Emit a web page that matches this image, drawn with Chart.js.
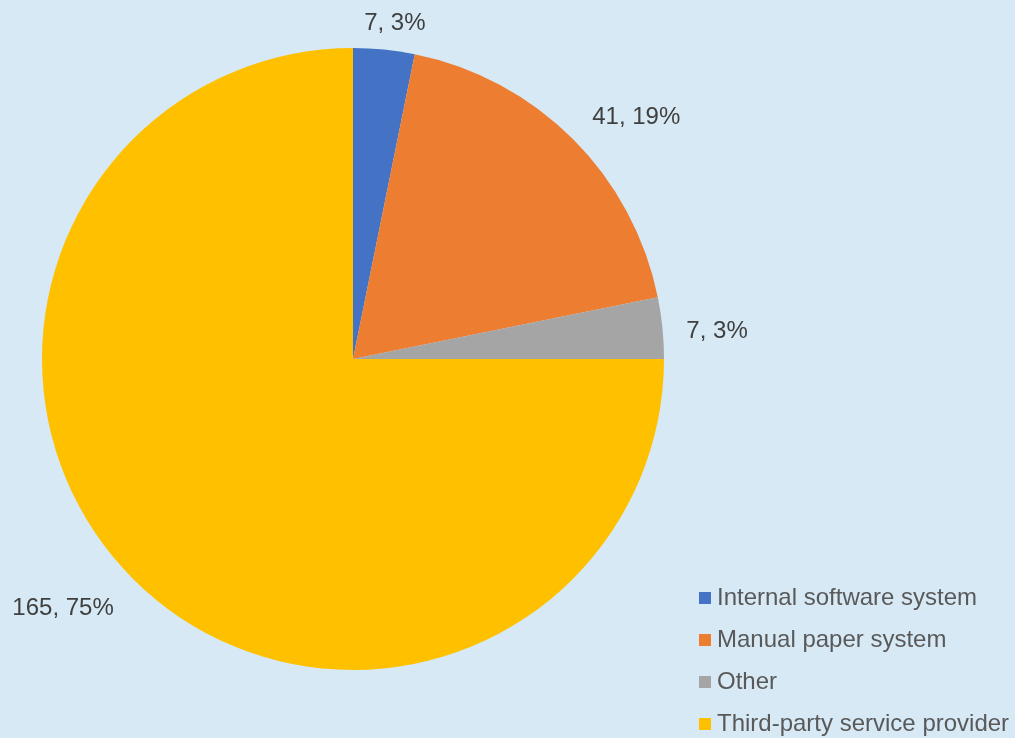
<!DOCTYPE html>
<html>
<head>
<meta charset="utf-8">
<script src="https://cdn.jsdelivr.net/npm/chart.js@4/dist/chart.umd.min.js"></script>
<style>
  html, body { margin: 0; padding: 0; background: #D6E9F4; }
  #wrap { position: relative; width: 1015px; height: 738px; }
  #legende { position: absolute; left: 699px; top: 576px; font-family: "Liberation Sans", Arial, sans-serif; font-size: 24px; color: #595959; }
  #legende div { height: 42px; line-height: 42px; white-space: nowrap; }
  #legende span { display: inline-block; width: 12px; height: 12px; margin-right: 6px; vertical-align: 1px; }
</style>
</head>
<body>
<div id="wrap">
  <canvas id="camembert" width="1015" height="738"></canvas>
  <div id="legende"></div>
</div>
<script>
const categories = ['Internal software system', 'Manual paper system', 'Other', 'Third-party service provider'];
const valeurs = [7, 41, 7, 165];
const pourcentages = ['3%', '19%', '3%', '75%'];
const couleurs = ['#4472C4', '#ED7D31', '#A5A5A5', '#FFC000'];

// legende en HTML
const legende = document.getElementById('legende');
categories.forEach((nom, i) => {
  const ligne = document.createElement('div');
  const carre = document.createElement('span');
  carre.style.background = couleurs[i];
  ligne.appendChild(carre);
  ligne.appendChild(document.createTextNode(nom));
  legende.appendChild(ligne);
});

// etiquettes "valeur, pourcentage" a l'exterieur des parts
const etiquettes = {
  id: 'etiquettes',
  afterDatasetsDraw(chart) {
    const ctx = chart.ctx;
    const meta = chart.getDatasetMeta(0);
    ctx.save();
    ctx.font = '24px "Liberation Sans", Arial, sans-serif';
    ctx.fillStyle = '#404040';
    meta.data.forEach((arc, i) => {
      const p = arc.getProps(['x', 'y', 'startAngle', 'endAngle', 'outerRadius'], true);
      const milieu = (p.startAngle + p.endAngle) / 2;
      const ux = Math.cos(milieu), uy = Math.sin(milieu);
      const ax = p.x + ux * (p.outerRadius + 16);
      const ay = p.y + uy * (p.outerRadius + 16);
      const texte = valeurs[i] + ', ' + pourcentages[i];
      const w = ctx.measureText(texte).width;
      let x = ax, y = ay;
      if (ux > 0.3) { ctx.textAlign = 'left'; x = ax + 8; }
      else if (ux < -0.3) { ctx.textAlign = 'right'; x = ax - 8; }
      else { ctx.textAlign = 'center'; x = ax + ux * w * 1.5; }
      if (uy < -0.3) { ctx.textBaseline = 'bottom'; y = ay + 2; }
      else if (uy > 0.3) { ctx.textBaseline = 'top'; y = ay + 6; }
      else { ctx.textBaseline = 'middle'; y = ay + 5; }
      ctx.fillText(texte, x, y);
    });
    ctx.restore();
  }
};

new Chart(document.getElementById('camembert'), {
  type: 'pie',
  data: {
    labels: categories,
    datasets: [{
      data: valeurs,
      backgroundColor: couleurs,
      borderWidth: 0
    }]
  },
  options: {
    responsive: false,
    animation: false,
    layout: { padding: { left: 42, top: 48, right: 351, bottom: 68 } },
    plugins: {
      legend: { display: false },
      tooltip: { enabled: false }
    }
  },
  plugins: [etiquettes]
});
</script>
</body>
</html>
